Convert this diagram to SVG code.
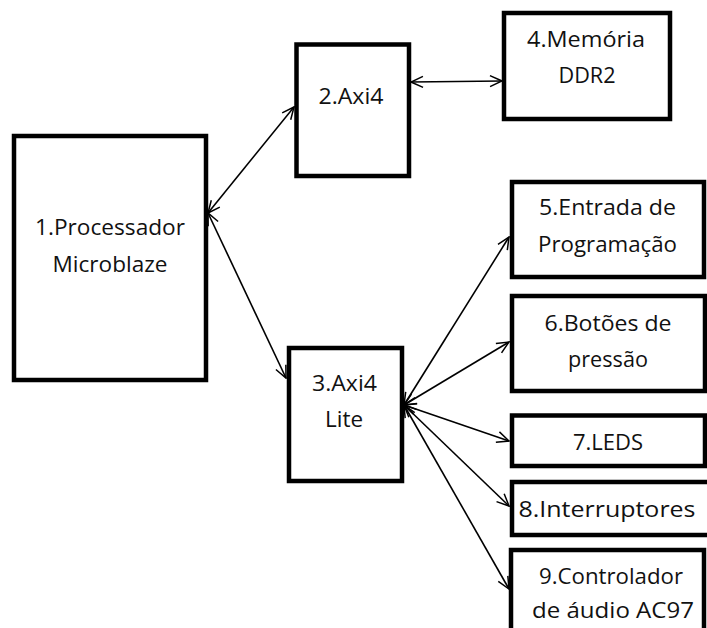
<svg xmlns="http://www.w3.org/2000/svg" width="707" height="628" viewBox="0 0 707 628">
<defs>
<marker id="arr" viewBox="0 0 14 14" refX="13" refY="7" markerWidth="14" markerHeight="14" markerUnits="userSpaceOnUse" orient="auto-start-reverse">
<path d="M1,1.5 L13,7 L1,12.5" fill="none" stroke="#000" stroke-width="1.5"/>
</marker>
<style>
.box{fill:#fff;stroke:#000;stroke-width:4.5}
.lbl{font-family:"Open Sans","Liberation Sans",sans-serif;font-size:21px;fill:#111;text-anchor:middle}
.con line{stroke:#000;stroke-width:1.6;marker-start:url(#arr);marker-end:url(#arr)}
</style>
</defs>
<rect width="707" height="628" fill="#fff"/>
<g class="con" id="connectors">
<line x1="208" y1="213" x2="294" y2="107"/>
<line x1="208" y1="213" x2="286" y2="378"/>
<line x1="411" y1="82" x2="502" y2="81"/>
<line x1="404" y1="405" x2="509" y2="237"/>
<line x1="404" y1="405" x2="509" y2="342"/>
<line x1="404" y1="405" x2="509" y2="441"/>
<line x1="404" y1="405" x2="509" y2="506"/>
<line x1="404" y1="405" x2="509" y2="589"/>
</g>
<g id="n1"><rect class="box" x="14" y="136" width="192" height="244"/>
<text class="lbl" x="110" y="235" textLength="150" lengthAdjust="spacingAndGlyphs">1.Processador</text>
<text class="lbl" x="110" y="272" textLength="115" lengthAdjust="spacingAndGlyphs">Microblaze</text></g>
<g id="n2"><rect class="box" x="296.5" y="44.5" width="112.5" height="131.5"/>
<text class="lbl" x="351" y="104" textLength="65" lengthAdjust="spacingAndGlyphs">2.Axi4</text></g>
<g id="n3"><rect class="box" x="289" y="348" width="113" height="133"/>
<text class="lbl" x="344.5" y="391" textLength="65" lengthAdjust="spacingAndGlyphs">3.Axi4</text>
<text class="lbl" x="344" y="427" textLength="38" lengthAdjust="spacingAndGlyphs">Lite</text></g>
<g id="n4"><rect class="box" x="504" y="13" width="166" height="106"/>
<text class="lbl" x="586" y="47" textLength="118" lengthAdjust="spacingAndGlyphs">4.Memória</text>
<text class="lbl" x="587" y="83" textLength="57" lengthAdjust="spacingAndGlyphs">DDR2</text></g>
<g id="n5"><rect class="box" x="512" y="182" width="192" height="95"/>
<text class="lbl" x="607.5" y="215" textLength="137" lengthAdjust="spacingAndGlyphs">5.Entrada de</text>
<text class="lbl" x="607.5" y="252" textLength="139" lengthAdjust="spacingAndGlyphs">Programação</text></g>
<g id="n6"><rect class="box" x="512" y="296" width="193" height="95"/>
<text class="lbl" x="608" y="331" textLength="127" lengthAdjust="spacingAndGlyphs">6.Botões de</text>
<text class="lbl" x="608" y="367" textLength="80" lengthAdjust="spacingAndGlyphs">pressão</text></g>
<g id="n7"><rect class="box" x="512" y="415.5" width="193" height="50.5"/>
<text class="lbl" x="608" y="450" textLength="70" lengthAdjust="spacingAndGlyphs">7.LEDS</text></g>
<g id="n8"><rect class="box" x="512" y="482" width="205" height="53"/>
<text class="lbl" x="607" y="517" textLength="177" lengthAdjust="spacingAndGlyphs">8.Interruptores</text></g>
<g id="n9"><rect class="box" x="511" y="550" width="193" height="100"/>
<text class="lbl" x="611" y="584" textLength="144" lengthAdjust="spacingAndGlyphs">9.Controlador</text>
<text class="lbl" x="613" y="618" textLength="162" lengthAdjust="spacingAndGlyphs">de áudio AC97</text></g>
</svg>
